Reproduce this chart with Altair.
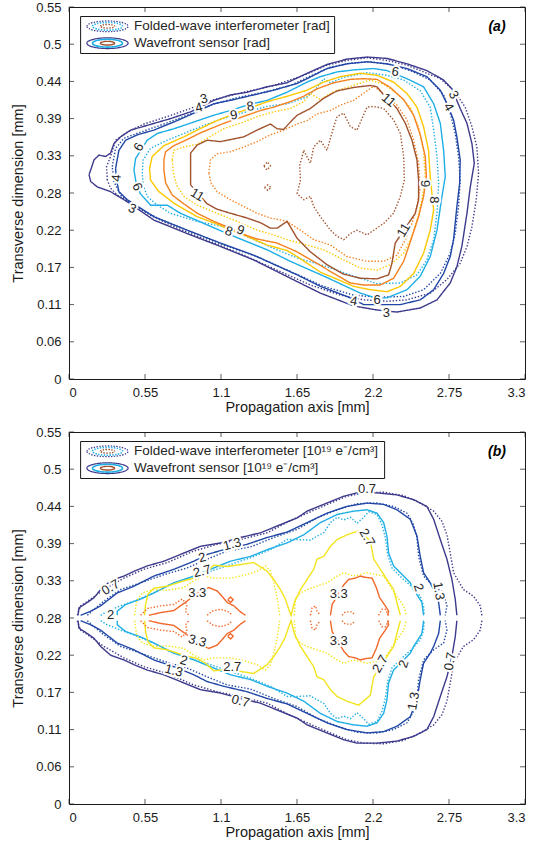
import json
import altair as alt
import pandas as pd

# ---------------- axes ----------------
X_TICKS = [0, 0.55, 1.1, 1.65, 2.2, 2.75, 3.3]
X_TICK_LABELS = ["0", "0.55", "1.1", "1.65", "2.2", "2.75", "3.3"]
Y_TICKS = [0, 0.055, 0.11, 0.165, 0.22, 0.275, 0.33, 0.385, 0.44, 0.495, 0.55]
Y_TICK_LABELS = ["0", "0.06", "0.11", "0.17", "0.22", "0.28", "0.33", "0.39", "0.44", "0.5", "0.55"]

NAVY = "#3d3a8c"
BLUE = "#2147a6"
CYAN = "#1eaee6"
YELLOW_A = "#fdc800"
YELLOW_B = "#f3e41c"
ORANGE_A = "#f58220"
ORANGE_B = "#f2682a"
BROWN = "#a0522d"

# ---------------- panel (a): phase [rad], closed contours (x mm, y mm) ----------------
A_WFS_3 = [(0.145,0.302),(0.157,0.309),(0.181,0.324),(0.217,0.331),(0.265,0.329),(0.301,0.334),(0.325,0.348),(0.373,0.358),(0.446,0.368),(0.566,0.375),(0.735,0.385),(0.880,0.395),(1.048,0.412),(1.169,0.420),(1.289,0.424),(1.434,0.432),(1.578,0.438),(1.723,0.452),(1.867,0.465),(2.012,0.473),(2.157,0.476),(2.301,0.474),(2.446,0.466),(2.590,0.456),(2.711,0.442),(2.771,0.429),(2.831,0.400),(2.880,0.378),(2.916,0.348),(2.933,0.319),(2.904,0.284),(2.880,0.245),(2.843,0.196),(2.807,0.166),(2.759,0.142),(2.663,0.117),(2.542,0.105),(2.373,0.099),(2.229,0.102),(2.060,0.108),(1.819,0.127),(1.651,0.144),(1.337,0.176),(1.096,0.196),(0.855,0.215),(0.614,0.235),(0.422,0.262),(0.301,0.277),(0.205,0.284),(0.157,0.292)]
A_FWI_3 = [(0.277,0.294),(0.272,0.314),(0.301,0.329),(0.337,0.353),(0.422,0.365),(0.542,0.377),(0.711,0.388),(0.880,0.400),(1.048,0.413),(1.265,0.424),(1.482,0.434),(1.699,0.449),(1.867,0.464),(2.012,0.471),(2.157,0.475),(2.301,0.471),(2.446,0.464),(2.566,0.454),(2.687,0.444),(2.783,0.427),(2.867,0.402),(2.916,0.373),(2.952,0.343),(2.964,0.304),(2.947,0.265),(2.916,0.225),(2.880,0.196),(2.831,0.171),(2.735,0.147),(2.614,0.127),(2.446,0.117),(2.301,0.115),(2.133,0.117),(1.964,0.124),(1.747,0.139),(1.506,0.161),(1.265,0.183),(1.024,0.203),(0.783,0.223),(0.590,0.242),(0.446,0.260),(0.349,0.272),(0.301,0.282)]
A_WFS_4 = [(0.337,0.311),(0.361,0.338),(0.410,0.353),(0.494,0.361),(0.614,0.368),(0.759,0.380),(0.904,0.393),(1.048,0.407),(1.169,0.412),(1.337,0.420),(1.482,0.427),(1.651,0.437),(1.723,0.444),(1.867,0.459),(2.012,0.466),(2.157,0.469),(2.301,0.466),(2.446,0.459),(2.590,0.447),(2.687,0.427),(2.735,0.407),(2.783,0.383),(2.807,0.358),(2.831,0.324),(2.827,0.289),(2.807,0.255),(2.783,0.206),(2.759,0.181),(2.711,0.156),(2.639,0.132),(2.542,0.117),(2.398,0.110),(2.133,0.110),(2.012,0.122),(1.819,0.137),(1.651,0.154),(1.337,0.183),(1.096,0.201),(0.855,0.220),(0.614,0.240),(0.422,0.265),(0.361,0.277),(0.345,0.294)]
A_FWI_4 = [(0.313,0.314),(0.337,0.341),(0.398,0.356),(0.518,0.365),(0.687,0.377),(0.855,0.390),(1.024,0.405),(1.217,0.416),(1.410,0.424),(1.602,0.434),(1.747,0.448),(1.892,0.461),(2.036,0.467),(2.181,0.469),(2.325,0.465),(2.470,0.456),(2.614,0.442),(2.711,0.420),(2.759,0.393),(2.795,0.363),(2.819,0.329),(2.831,0.294),(2.819,0.255),(2.795,0.215),(2.759,0.186),(2.687,0.156),(2.566,0.132),(2.422,0.122),(2.229,0.121),(2.060,0.124),(1.843,0.137),(1.602,0.159),(1.361,0.181),(1.120,0.198),(0.880,0.218),(0.639,0.238),(0.470,0.257),(0.373,0.272),(0.325,0.292)]
A_WFS_6 = [(0.470,0.309),(0.482,0.326),(0.566,0.353),(0.639,0.363),(0.759,0.370),(0.904,0.380),(1.048,0.390),(1.169,0.397),(1.289,0.405),(1.434,0.412),(1.578,0.424),(1.723,0.439),(1.819,0.447),(1.940,0.454),(2.060,0.457),(2.205,0.459),(2.301,0.456),(2.446,0.444),(2.566,0.432),(2.639,0.407),(2.687,0.378),(2.711,0.338),(2.723,0.299),(2.699,0.270),(2.663,0.220),(2.614,0.181),(2.542,0.152),(2.446,0.132),(2.301,0.120),(2.217,0.120),(2.108,0.127),(1.867,0.150),(1.602,0.174),(1.434,0.191),(1.265,0.205),(1.145,0.215),(0.976,0.230),(0.807,0.245),(0.711,0.257),(0.590,0.257),(0.516,0.274),(0.484,0.292)]
A_FWI_6 = [(0.530,0.304),(0.537,0.324),(0.590,0.341),(0.687,0.351),(0.807,0.361),(0.952,0.373),(1.096,0.384),(1.265,0.394),(1.434,0.403),(1.578,0.407),(1.723,0.417),(1.795,0.431),(1.843,0.444),(1.892,0.438),(1.988,0.446),(2.157,0.453),(2.301,0.449),(2.422,0.442),(2.542,0.426),(2.614,0.402),(2.639,0.368),(2.663,0.329),(2.675,0.289),(2.663,0.245),(2.639,0.206),(2.590,0.176),(2.518,0.154),(2.398,0.142),(2.229,0.141),(2.060,0.152),(1.867,0.166),(1.651,0.179),(1.482,0.193),(1.337,0.206),(1.145,0.224),(0.928,0.233),(0.735,0.245),(0.639,0.257),(0.566,0.270),(0.537,0.287)]
A_WFS_8 = [(0.602,0.329),(0.687,0.345),(0.831,0.358),(0.928,0.368),(1.048,0.380),(1.145,0.388),(1.289,0.399),(1.434,0.410),(1.578,0.418),(1.723,0.427),(1.843,0.439),(1.964,0.447),(2.108,0.452),(2.229,0.449),(2.349,0.439),(2.446,0.422),(2.518,0.402),(2.566,0.373),(2.602,0.338),(2.614,0.299),(2.639,0.250),(2.614,0.220),(2.566,0.186),(2.494,0.156),(2.398,0.137),(2.301,0.129),(2.181,0.132),(2.060,0.137),(1.819,0.158),(1.651,0.181),(1.578,0.190),(1.434,0.198),(1.265,0.213),(1.145,0.222),(1.096,0.227),(0.928,0.240),(0.759,0.260),(0.651,0.277),(0.590,0.294),(0.583,0.311)]
A_FWI_8 = [(0.747,0.324),(0.759,0.338),(0.831,0.343),(0.928,0.347),(1.000,0.356),(1.120,0.370),(1.265,0.380),(1.361,0.388),(1.482,0.395),(1.602,0.400),(1.699,0.410),(1.747,0.422),(1.819,0.413),(1.916,0.425),(2.012,0.431),(2.084,0.436),(2.181,0.442),(2.277,0.436),(2.373,0.422),(2.470,0.402),(2.530,0.373),(2.566,0.338),(2.578,0.299),(2.554,0.265),(2.518,0.235),(2.482,0.211),(2.422,0.186),(2.325,0.169),(2.229,0.161),(2.108,0.164),(1.988,0.176),(1.843,0.191),(1.723,0.198),(1.578,0.206),(1.482,0.213),(1.361,0.220),(1.217,0.233),(1.072,0.245),(0.928,0.257),(0.831,0.270),(0.778,0.287),(0.754,0.306)]
A_WFS_9 = [(0.687,0.324),(0.699,0.336),(0.759,0.345),(0.855,0.354),(0.952,0.364),(1.048,0.372),(1.120,0.378),(1.386,0.397),(1.482,0.402),(1.602,0.410),(1.699,0.418),(1.795,0.429),(1.916,0.438),(2.036,0.443),(2.133,0.444),(2.229,0.443),(2.325,0.431),(2.422,0.413),(2.494,0.390),(2.542,0.361),(2.578,0.329),(2.586,0.299),(2.566,0.270),(2.530,0.240),(2.475,0.206),(2.422,0.174),(2.349,0.149),(2.253,0.139),(2.133,0.139),(2.036,0.142),(1.916,0.156),(1.795,0.171),(1.651,0.188),(1.506,0.201),(1.361,0.207),(1.289,0.212),(1.145,0.225),(1.048,0.233),(0.928,0.245),(0.831,0.259),(0.747,0.272),(0.699,0.290),(0.687,0.309)]
A_FWI_9 = [(1.012,0.304),(1.024,0.324),(1.072,0.333),(1.169,0.336),(1.265,0.343),(1.361,0.351),(1.458,0.361),(1.554,0.368),(1.651,0.377),(1.723,0.382),(1.795,0.392),(1.892,0.397),(1.964,0.405),(2.060,0.412),(2.157,0.426),(2.205,0.433),(2.277,0.422),(2.373,0.405),(2.446,0.383),(2.494,0.353),(2.530,0.319),(2.542,0.284),(2.518,0.255),(2.482,0.230),(2.434,0.206),(2.373,0.183),(2.277,0.174),(2.157,0.174),(2.012,0.181),(1.892,0.198),(1.771,0.206),(1.675,0.220),(1.578,0.233),(1.458,0.238),(1.361,0.245),(1.265,0.255),(1.169,0.265),(1.072,0.277),(1.029,0.289)]
A_WFS_11 = [(0.880,0.287),(0.880,0.314),(0.880,0.334),(0.928,0.346),(1.000,0.353),(1.096,0.351),(1.169,0.354),(1.265,0.358),(1.361,0.368),(1.458,0.377),(1.506,0.370),(1.554,0.369),(1.602,0.380),(1.651,0.390),(1.747,0.400),(1.843,0.415),(1.940,0.426),(2.060,0.431),(2.181,0.434),(2.229,0.432),(2.277,0.420),(2.373,0.400),(2.434,0.378),(2.482,0.353),(2.518,0.324),(2.530,0.294),(2.530,0.265),(2.506,0.245),(2.361,0.201),(2.337,0.171),(2.313,0.154),(2.229,0.148),(2.108,0.149),(1.988,0.155),(1.867,0.169),(1.747,0.188),(1.651,0.208),(1.602,0.225),(1.578,0.233),(1.506,0.223),(1.458,0.223),(1.386,0.231),(1.289,0.238),(1.169,0.245),(1.072,0.251),(1.000,0.259)]
A_FWI_11 = [(1.699,0.338),(1.747,0.319),(1.771,0.343),(1.819,0.353),(1.867,0.338),(1.916,0.373),(1.940,0.388),(1.988,0.393),(2.036,0.373),(2.084,0.368),(2.157,0.402),(2.205,0.403),(2.277,0.400),(2.349,0.383),(2.398,0.363),(2.422,0.329),(2.427,0.294),(2.398,0.270),(2.349,0.245),(2.277,0.230),(2.205,0.220),(2.157,0.213),(2.084,0.220),(2.036,0.215),(1.988,0.206),(1.940,0.211),(1.892,0.220),(1.819,0.240),(1.771,0.255),(1.747,0.270),(1.699,0.265),(1.651,0.274),(1.675,0.294),(1.670,0.316)]
A_FWI_11_SPOT1 = [(1.410,0.315),(1.434,0.321),(1.458,0.315),(1.434,0.309)]
A_FWI_11_SPOT2 = [(1.415,0.283),(1.439,0.287),(1.463,0.283),(1.439,0.279)]

A_LABELS = [("3",0.976,0.414,-15),("4",0.940,0.401,-15),("9",1.193,0.390,-10),("8",1.313,0.403,-10),
            ("6",0.506,0.343,-60),("4",0.345,0.297,-85),("6",0.494,0.284,65),("3",0.458,0.252,25),
            ("11",0.928,0.272,30),("8",1.157,0.218,20),("9",1.241,0.220,20),
            ("4",2.060,0.115,10),("6",2.229,0.117,0),("3",2.296,0.097,0),
            ("11",2.422,0.220,-60),("8",2.639,0.265,90),("9",2.578,0.289,90),
            ("11",2.313,0.412,40),("6",2.361,0.454,10),("3",2.783,0.420,60),("4",2.747,0.402,60)]

# ---------------- panel (b): density, upper/lower halves (x, y upper, y lower) ----------------
B_07_W_X = [0.065,0.072,0.133,0.181,0.229,0.301,0.398,0.470,0.566,0.687,0.807,0.952,1.096,1.241,1.386,1.530,1.651,1.723,1.867,1.988,2.084,2.229,2.373,2.494,2.590,2.639,2.687,2.735,2.771,2.795,2.807]
B_07_W_UP = [0.279,0.290,0.298,0.305,0.317,0.330,0.337,0.344,0.352,0.359,0.369,0.381,0.386,0.394,0.401,0.413,0.423,0.433,0.445,0.455,0.460,0.460,0.457,0.450,0.440,0.421,0.391,0.362,0.332,0.303,0.279]
B_07_W_LO = [0.271,0.260,0.252,0.245,0.233,0.220,0.213,0.206,0.198,0.191,0.181,0.169,0.164,0.156,0.149,0.137,0.127,0.117,0.105,0.095,0.090,0.090,0.093,0.100,0.110,0.129,0.159,0.188,0.218,0.247,0.271]
B_07_F_X = [0.060,0.084,0.157,0.253,0.398,0.542,0.711,0.904,1.072,1.241,1.434,1.602,1.747,1.892,2.012,2.133,2.277,2.422,2.542,2.639,2.699,2.735,2.759,2.783,2.855,2.928,2.976,2.988]
B_07_F_UP = [0.279,0.293,0.303,0.317,0.334,0.347,0.357,0.374,0.384,0.391,0.401,0.419,0.432,0.445,0.455,0.460,0.461,0.456,0.445,0.433,0.418,0.398,0.371,0.342,0.317,0.307,0.293,0.279]
B_07_F_LO = [0.271,0.257,0.247,0.233,0.216,0.203,0.193,0.176,0.166,0.159,0.149,0.131,0.118,0.105,0.095,0.090,0.089,0.094,0.105,0.117,0.132,0.152,0.179,0.208,0.233,0.243,0.257,0.271]
B_13_W_X = [0.084,0.157,0.229,0.349,0.470,0.614,0.759,0.904,1.000,1.120,1.289,1.434,1.578,1.723,1.867,2.012,2.157,2.277,2.373,2.470,2.518,2.542,2.566,2.614,2.639,2.675,2.687]
B_13_W_UP = [0.279,0.285,0.293,0.312,0.322,0.337,0.347,0.359,0.369,0.376,0.384,0.394,0.402,0.416,0.430,0.440,0.445,0.443,0.435,0.421,0.396,0.366,0.342,0.327,0.317,0.298,0.279]
B_13_W_LO = [0.271,0.265,0.257,0.238,0.228,0.213,0.203,0.191,0.181,0.174,0.166,0.156,0.148,0.134,0.120,0.110,0.105,0.107,0.115,0.129,0.154,0.184,0.208,0.223,0.233,0.252,0.271]
B_13_F_X = [0.133,0.181,0.253,0.373,0.518,0.687,0.855,1.000,1.145,1.313,1.482,1.651,1.795,1.940,2.084,2.229,2.349,2.446,2.494,2.518,2.530,2.566,2.639,2.711,2.735,2.723]
B_13_F_UP = [0.279,0.288,0.300,0.317,0.327,0.339,0.349,0.362,0.374,0.380,0.394,0.406,0.423,0.435,0.444,0.445,0.440,0.430,0.413,0.394,0.366,0.337,0.322,0.312,0.293,0.279]
B_13_F_LO = [0.271,0.262,0.250,0.233,0.223,0.211,0.201,0.188,0.176,0.170,0.156,0.144,0.127,0.115,0.106,0.105,0.110,0.120,0.137,0.156,0.184,0.213,0.228,0.238,0.257,0.271]
B_2_W_X = [0.349,0.349,0.410,0.518,0.614,0.759,0.904,1.048,1.169,1.313,1.434,1.578,1.699,1.819,1.940,2.060,2.157,2.229,2.277,2.301,2.313,2.349,2.422,2.470,2.494,2.554,2.566]
B_2_W_UP = [0.279,0.285,0.295,0.303,0.312,0.327,0.337,0.349,0.359,0.366,0.376,0.386,0.398,0.416,0.428,0.433,0.435,0.430,0.416,0.396,0.371,0.352,0.337,0.327,0.317,0.298,0.279]
B_2_W_LO = [0.271,0.265,0.255,0.247,0.238,0.223,0.213,0.201,0.191,0.184,0.174,0.164,0.152,0.134,0.122,0.117,0.115,0.120,0.134,0.154,0.179,0.198,0.213,0.223,0.233,0.252,0.271]
B_2_F_X = [0.229,0.277,0.373,0.470,0.590,0.735,0.880,1.024,1.169,1.313,1.458,1.578,1.651,1.747,1.795,1.843,1.892,1.940,1.988,2.036,2.084,2.133,2.169,2.229,2.265,2.289,2.306,2.337,2.410,2.482,2.542,2.566,2.571]
B_2_F_UP = [0.279,0.285,0.293,0.300,0.310,0.325,0.335,0.344,0.354,0.364,0.376,0.391,0.391,0.390,0.396,0.401,0.416,0.424,0.420,0.424,0.415,0.424,0.432,0.428,0.413,0.394,0.369,0.349,0.334,0.321,0.307,0.293,0.279]
B_2_F_LO = [0.271,0.265,0.257,0.250,0.240,0.225,0.215,0.206,0.196,0.186,0.174,0.159,0.159,0.160,0.154,0.149,0.134,0.126,0.130,0.126,0.135,0.126,0.118,0.122,0.137,0.156,0.181,0.201,0.216,0.229,0.243,0.257,0.271]
B_27_W_X = [0.547,0.554,0.571,0.614,0.711,0.831,0.928,0.988,1.048,1.145,1.241,1.337,1.434,1.482,1.530,1.566,1.590,1.607,1.631,1.675,1.723,1.771,1.795,1.843,1.892,1.940,2.012,2.096,2.181,2.205,2.253,2.301,2.349,2.373,2.398]
B_27_W_UP = [0.279,0.295,0.310,0.319,0.322,0.330,0.335,0.342,0.353,0.351,0.354,0.357,0.344,0.332,0.317,0.303,0.288,0.279,0.298,0.317,0.332,0.347,0.362,0.366,0.381,0.391,0.398,0.404,0.389,0.362,0.347,0.332,0.317,0.298,0.279]
B_27_W_LO = [0.271,0.255,0.240,0.231,0.228,0.220,0.215,0.208,0.197,0.199,0.196,0.193,0.206,0.218,0.233,0.247,0.262,0.271,0.252,0.233,0.218,0.203,0.188,0.184,0.169,0.159,0.152,0.146,0.161,0.188,0.203,0.218,0.233,0.252,0.271]
B_27_F1_X = [0.475,0.489,0.530,0.614,0.711,0.831,0.904,0.976,1.048,1.169,1.265,1.361,1.422,1.458,1.482,1.506,1.525]
B_27_F1_UP = [0.279,0.300,0.312,0.317,0.316,0.320,0.330,0.337,0.334,0.334,0.338,0.344,0.352,0.344,0.327,0.305,0.279]
B_27_F1_LO = [0.271,0.250,0.238,0.233,0.234,0.230,0.220,0.213,0.216,0.216,0.212,0.206,0.198,0.206,0.223,0.245,0.271]
B_27_F2_X = [1.631,1.639,1.675,1.723,1.795,1.867,1.940,1.988,2.060,2.157,2.277,2.325,2.373,2.422,2.441]
B_27_F2_UP = [0.279,0.304,0.312,0.317,0.322,0.327,0.337,0.342,0.337,0.342,0.337,0.322,0.307,0.293,0.279]
B_27_F2_LO = [0.271,0.246,0.238,0.233,0.228,0.223,0.213,0.208,0.213,0.208,0.213,0.228,0.243,0.257,0.271]
B_33_W1_X = [0.578,0.663,0.759,0.807,0.855,0.928,1.012,1.072,1.108,1.145,1.193,1.241,1.277]
B_33_W1_UP = [0.279,0.283,0.286,0.293,0.300,0.312,0.320,0.315,0.307,0.298,0.293,0.284,0.279]
B_33_W1_LO = [0.271,0.267,0.264,0.257,0.250,0.238,0.230,0.235,0.243,0.252,0.257,0.266,0.271]
B_33_W2_X = [1.892,1.904,1.940,1.988,2.024,2.072,2.108,2.145,2.193,2.224,2.248,2.289,2.313,2.306]
B_33_W2_UP = [0.279,0.295,0.307,0.324,0.332,0.334,0.337,0.335,0.334,0.320,0.305,0.293,0.285,0.279]
B_33_W2_LO = [0.271,0.255,0.243,0.226,0.218,0.216,0.213,0.215,0.216,0.230,0.245,0.257,0.265,0.271]
B_33_RING_X = [1.149,1.169,1.188,1.169,1.149]
B_33_RING_UP = [0.302,0.306,0.302,0.298,0.302]
B_33_RING_LO = [0.248,0.252,0.248,0.244,0.248]
B_33_F1_X = [0.518,0.566,0.663,0.759,0.819,0.855,0.843,0.867]
B_33_F1_UP = [0.279,0.289,0.293,0.295,0.303,0.295,0.285,0.279]
B_33_F1_LO = [0.271,0.261,0.257,0.255,0.247,0.255,0.265,0.271]
B_33_F2_X = [1.000,1.036,1.096,1.157,1.181]
B_33_F2_UP = [0.279,0.285,0.288,0.284,0.279]
B_33_F2_LO = [0.271,0.265,0.262,0.266,0.271]
B_33_F3_X = [1.747,1.759,1.783,1.795,1.819]
B_33_F3_UP = [0.279,0.290,0.293,0.285,0.279]
B_33_F3_LO = [0.271,0.260,0.257,0.265,0.271]
B_33_F4_X = [1.976,2.000,2.048,2.072]
B_33_F4_UP = [0.279,0.284,0.284,0.279]
B_33_F4_LO = [0.271,0.266,0.266,0.271]
B_33_F5_X = [2.241,2.265,2.289,2.313]
B_33_F5_UP = [0.279,0.288,0.288,0.279]
B_33_F5_LO = [0.271,0.262,0.262,0.271]

B_LABELS = [("0.7",2.157,0.465,0),("1.3",1.181,0.384,-15),("2",0.964,0.364,-15),("2.7",0.964,0.344,-15),
            ("3.3",0.928,0.312,0),("0.7",0.301,0.320,-30),("2",0.301,0.279,0),("3.3",1.952,0.310,0),
            ("2.7",2.157,0.394,60),("2",2.530,0.320,70),("1.3",2.675,0.315,80),
            ("3.3",0.928,0.241,15),("2",0.831,0.212,15),("1.3",0.759,0.197,15),("2.7",1.181,0.202,0),
            ("0.7",1.241,0.152,15),("3.3",1.952,0.241,0),("2.7",2.253,0.207,-60),("2",2.422,0.207,-70),
            ("1.3",2.494,0.152,-80),("0.7",2.759,0.211,-80)]

FONT = "Liberation Sans"
W, H = 456, 372

def ylabel_expr():
    return json.dumps(Y_TICK_LABELS) + "[round(datum.value/0.055)]"

def xlabel_expr():
    return json.dumps(X_TICK_LABELS) + "[round(datum.value/0.55)]"

X_AX = alt.Axis(values=X_TICKS, labelExpr=xlabel_expr(), ticks=False, tickSize=0, domain=False, grid=False,
                labelFontSize=13, labelColor="#1a1a1a", labelPadding=7, labelFont=FONT,
                title="Propagation axis [mm]", titleFont=FONT, titleFontSize=14.5, titleFontWeight="normal",
                titleColor="#1a1a1a", titlePadding=1)
Y_AX = alt.Axis(values=Y_TICKS, labelExpr=ylabel_expr(), ticks=False, tickSize=0, domain=False, grid=False,
                labelFontSize=13, labelColor="#1a1a1a", labelPadding=8, labelFont=FONT,
                title="Transverse dimension [mm]", titleFont=FONT, titleFontSize=14.5, titleFontWeight="normal",
                titleColor="#1a1a1a", titlePadding=10)

def xenc(field="x"):
    return alt.X(f"{field}:Q", scale=alt.Scale(domain=[0, 3.3], nice=False, zero=False), axis=X_AX)

def yenc(field="y"):
    return alt.Y(f"{field}:Q", scale=alt.Scale(domain=[0, 0.55], nice=False, zero=False), axis=Y_AX)

ELLIPSE = ("M -1 0 C -1 -0.14 -0.552 -0.26 0 -0.26 C 0.552 -0.26 1 -0.14 1 0 "
           "C 1 0.14 0.552 0.26 0 0.26 C -0.552 0.26 -1 0.14 -1 0 Z")

def contour_layer(df):
    return alt.Chart(df).mark_line(strokeWidth=1.4, strokeCap="butt").encode(
        x=xenc(), y=yenc(),
        color=alt.Color("col:N", scale=None),
        strokeDash=alt.StrokeDash("sty:N", scale=alt.Scale(domain=["s", "d"], range=[[1, 0], [1.4, 1.8]]), legend=None),
        detail="cid:N",
        order=alt.Order("i:Q"),
    )

def tick_layers():
    xt = pd.DataFrame({"x": X_TICKS})
    yt = pd.DataFrame({"y": Y_TICKS})
    layers = []
    for yv in (H - 2.5, 2.5):
        layers.append(alt.Chart(xt).mark_tick(orient="vertical", size=5, thickness=1, color="#1a1a1a").encode(
            x=xenc(), y=alt.value(yv)))
    for xv in (2.5, W - 2.5):
        layers.append(alt.Chart(yt).mark_tick(orient="horizontal", size=5, thickness=1, color="#1a1a1a").encode(
            y=yenc(), x=alt.value(xv)))
    return layers

def label_layers(labels):
    df = pd.DataFrame(labels, columns=["t", "x", "y", "a"])
    halo = alt.Chart(df).mark_text(fontSize=13, font=FONT, color="white", stroke="white", strokeWidth=4).encode(
        x=xenc(), y=yenc(), text="t:N", angle=alt.Angle("a:Q", scale=None))
    txt = alt.Chart(df).mark_text(fontSize=13, font=FONT, color="#262626").encode(
        x=xenc(), y=yenc(), text="t:N", angle=alt.Angle("a:Q", scale=None))
    return [halo, txt]

def legend_layers(x2, text1, text2, tag):
    layers = [alt.Chart().mark_rect(fill="white", stroke="#1a1a1a", strokeWidth=1).encode(
        x=alt.value(11.6), x2=alt.value(x2), y=alt.value(9.5), y2=alt.value(46.5))]
    for yy, dash, txt in ((19.3, [1.4, 1.4], text1), (36.2, [1, 0], text2)):
        for sz, col, sw in ((1700, NAVY, 1.2), (900, CYAN, 1.6), (200, BROWN, 1.4)):
            layers.append(alt.Chart().mark_point(shape=ELLIPSE, size=sz, filled=False, color=col,
                                                 strokeWidth=sw, strokeDash=dash, opacity=1).encode(
                x=alt.value(38.5), y=alt.value(yy)))
        layers.append(alt.Chart().mark_text(text=txt, align="left", baseline="middle", fontSize=13.5,
                                            font=FONT, color="#262626").encode(
            x=alt.value(65), y=alt.value(yy)))
    layers.append(alt.Chart().mark_text(text=tag, align="center", baseline="middle", fontSize=14,
                                        font=FONT, fontWeight="bold", fontStyle="italic", color="black").encode(
        x=alt.value(428), y=alt.value(20)))
    return layers

def rows_closed(cid, pts, col, sty):
    out = []
    seq = list(pts) + [pts[0]]
    for i, (x, y) in enumerate(seq):
        out.append(dict(cid=cid, i=i, x=x, y=y, col=col, sty=sty))
    return out

def rows_half(cid, xs, ys, col, sty):
    return [dict(cid=cid, i=i, x=x, y=y, col=col, sty=sty) for i, (x, y) in enumerate(zip(xs, ys))]

# panel a data
rows = []
for cid, pts, col, sty in [
    ("a3w", A_WFS_3, NAVY, "s"), ("a3f", A_FWI_3, NAVY, "d"),
    ("a4w", A_WFS_4, BLUE, "s"), ("a4f", A_FWI_4, BLUE, "d"),
    ("a6w", A_WFS_6, CYAN, "s"), ("a6f", A_FWI_6, CYAN, "d"),
    ("a8w", A_WFS_8, YELLOW_A, "s"), ("a8f", A_FWI_8, YELLOW_A, "d"),
    ("a9w", A_WFS_9, ORANGE_A, "s"), ("a9f", A_FWI_9, ORANGE_A, "d"),
    ("a11w", A_WFS_11, BROWN, "s"), ("a11f", A_FWI_11, BROWN, "d"),
    ("a11s1", A_FWI_11_SPOT1, BROWN, "d"), ("a11s2", A_FWI_11_SPOT2, BROWN, "d"),
]:
    rows += rows_closed(cid, pts, col, sty)
df_a = pd.DataFrame(rows)

# panel b data
rows = []
for cid, xs, up, lo, col, sty in [
    ("b07w", B_07_W_X, B_07_W_UP, B_07_W_LO, NAVY, "s"), ("b07f", B_07_F_X, B_07_F_UP, B_07_F_LO, NAVY, "d"),
    ("b13w", B_13_W_X, B_13_W_UP, B_13_W_LO, BLUE, "s"), ("b13f", B_13_F_X, B_13_F_UP, B_13_F_LO, BLUE, "d"),
    ("b2w", B_2_W_X, B_2_W_UP, B_2_W_LO, CYAN, "s"), ("b2f", B_2_F_X, B_2_F_UP, B_2_F_LO, CYAN, "d"),
    ("b27w", B_27_W_X, B_27_W_UP, B_27_W_LO, YELLOW_B, "s"),
    ("b27f1", B_27_F1_X, B_27_F1_UP, B_27_F1_LO, YELLOW_B, "d"),
    ("b27f2", B_27_F2_X, B_27_F2_UP, B_27_F2_LO, YELLOW_B, "d"),
    ("b33w1", B_33_W1_X, B_33_W1_UP, B_33_W1_LO, ORANGE_B, "s"),
    ("b33w2", B_33_W2_X, B_33_W2_UP, B_33_W2_LO, ORANGE_B, "s"),
    ("b33r", B_33_RING_X, B_33_RING_UP, B_33_RING_LO, ORANGE_B, "s"),
    ("b33f1", B_33_F1_X, B_33_F1_UP, B_33_F1_LO, ORANGE_B, "d"),
    ("b33f2", B_33_F2_X, B_33_F2_UP, B_33_F2_LO, ORANGE_B, "d"),
    ("b33f3", B_33_F3_X, B_33_F3_UP, B_33_F3_LO, ORANGE_B, "d"),
    ("b33f4", B_33_F4_X, B_33_F4_UP, B_33_F4_LO, ORANGE_B, "d"),
    ("b33f5", B_33_F5_X, B_33_F5_UP, B_33_F5_LO, ORANGE_B, "d"),
]:
    rows += rows_half(cid + "u", xs, up, col, sty)
    rows += rows_half(cid + "l", xs, lo, col, sty)
df_b = pd.DataFrame(rows)

panel_a = alt.layer(
    contour_layer(df_a), *label_layers(A_LABELS), *tick_layers(),
    *legend_layers(265.6, "Folded-wave interferometer [rad]", "Wavefront sensor [rad]", "(a)"),
).properties(width=W, height=H)

panel_b = alt.layer(
    contour_layer(df_b), *label_layers(B_LABELS), *tick_layers(),
    *legend_layers(315.6, "Folded-wave interferometer [10\u00b9\u2079 e\u207b/cm\u00b3]",
                   "Wavefront sensor [10\u00b9\u2079 e\u207b/cm\u00b3]", "(b)"),
).properties(width=W, height=H)

chart = alt.vconcat(panel_a, panel_b, spacing=53, bounds="flush").properties(
    padding={"left": 10, "top": 0, "right": 0, "bottom": 4},
    background="white",
).configure_view(stroke="#1a1a1a", strokeWidth=1)

chart.save("out.html", embed_options={"renderer": "svg", "actions": False})
